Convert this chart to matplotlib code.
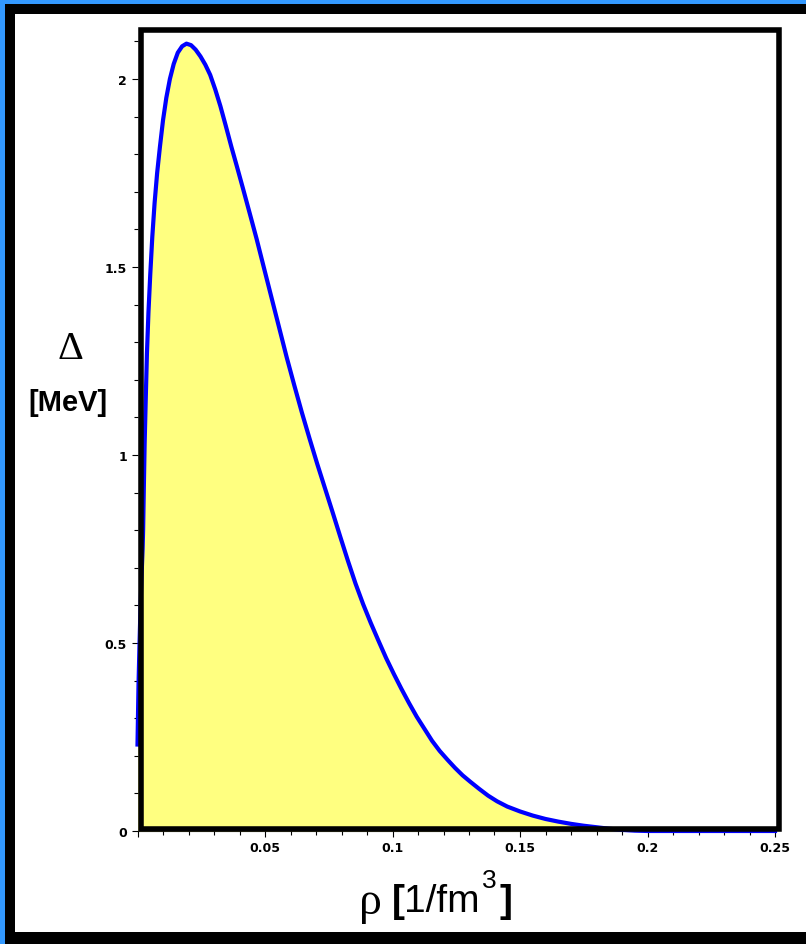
import matplotlib
matplotlib.use("Agg")
import matplotlib.pyplot as plt
from matplotlib.patches import Rectangle
from matplotlib.ticker import MultipleLocator

W, H = 806, 945
OUTPUT_FILENAME = "out.png"

# density rho [1/fm^3] and pairing gap Delta [MeV]
rho = [0.0000, 0.0004, 0.0008, 0.0012, 0.0016, 0.0020, 0.0022, 0.0025, 0.0028,
       0.0032, 0.0037, 0.0043, 0.0050, 0.0058, 0.0067, 0.0077, 0.0088, 0.0100,
       0.0113, 0.0127, 0.0142, 0.0158, 0.0175, 0.0192, 0.0210, 0.0228, 0.0247,
       0.0266, 0.0285, 0.0305, 0.0325, 0.0346, 0.0368, 0.0390, 0.0414, 0.0440,
       0.0467, 0.0495, 0.0525, 0.0555, 0.0585, 0.0615, 0.0645, 0.0675, 0.0705,
       0.0735, 0.0765, 0.0795, 0.0825, 0.0855, 0.0885, 0.0915, 0.0945, 0.0975,
       0.1005, 0.1035, 0.1065, 0.1095, 0.1125, 0.1155, 0.1185, 0.1215, 0.1245,
       0.1275, 0.1305, 0.1340, 0.1375, 0.1410, 0.1450, 0.1500, 0.1550, 0.1600,
       0.1650, 0.1700, 0.1750, 0.1800, 0.1850, 0.1900, 0.1950, 0.2000, 0.2500]
gap = [0.23, 0.39, 0.50, 0.60, 0.68, 0.75, 0.80, 0.92, 1.03,
       1.14, 1.27, 1.38, 1.48, 1.58, 1.67, 1.75, 1.82, 1.89,
       1.95, 2.00, 2.04, 2.07, 2.087, 2.094, 2.090, 2.078, 2.060,
       2.038, 2.011, 1.972, 1.928, 1.876, 1.820, 1.767, 1.708, 1.643,
       1.575, 1.500, 1.420, 1.340, 1.260, 1.185, 1.112, 1.043, 0.976,
       0.912, 0.848, 0.783, 0.719, 0.658, 0.603, 0.553, 0.506, 0.460,
       0.418, 0.378, 0.340, 0.304, 0.272, 0.240, 0.213, 0.190, 0.168,
       0.148, 0.131, 0.112, 0.094, 0.079, 0.065, 0.052, 0.041, 0.032,
       0.025, 0.019, 0.014, 0.010, 0.006, 0.003, 0.001, 0.0, 0.0]

x_ticks = [0.0, 0.05, 0.1, 0.15, 0.2, 0.25]
x_labels = ["", "0.05", "0.1", "0.15", "0.2", "0.25"]
y_ticks = [0.0, 0.5, 1.0, 1.5, 2.0]
y_labels = ["0", "0.5", "1", "1.5", "2"]


def fx(px):
    return px / W


def fy(py):
    return 1 - py / H


fig = plt.figure(figsize=(W / 100, H / 100), dpi=100, facecolor="#3399ff")

# window frame: blue edge, black band, white inside (right side cut off)
fig.add_artist(Rectangle((fx(5), fy(945)), (806 - 5) / W, (945 - 5) / H,
                         transform=fig.transFigure, facecolor="black", edgecolor="none", zorder=-3))
fig.add_artist(Rectangle((fx(15), fy(933)), (806 - 15) / W, (933 - 15) / H,
                         transform=fig.transFigure, facecolor="white", edgecolor="none", zorder=-2))

ax = fig.add_axes([fx(137.5), fy(832), (775 - 137.5) / W, (832 - 27) / H])
ax.set_facecolor("none")
ax.set_xlim(0, 0.25)
ax.set_ylim(0, 805 / 376)

ax.fill_between(rho, gap, 0, color="#ffff80", linewidth=0, zorder=1)
ax.plot(rho, gap, color="#0000ff", linewidth=3, clip_on=False, zorder=2,
        solid_joinstyle="round")

# boxed frame drawn over the curve
ax.add_patch(Rectangle((0.0012, 0.0066), 0.2504, 2.125, fill=False,
                       edgecolor="black", linewidth=4, clip_on=False, zorder=5))

for side in ["top", "right", "left"]:
    ax.spines[side].set_visible(False)
ax.spines["bottom"].set_linewidth(0.8)
ax.spines["bottom"].set_zorder(0)

tick_font = {"family": "DejaVu Sans", "weight": "bold", "size": 9}
ax.set_xticks(x_ticks)
ax.set_xticklabels(x_labels, fontdict=tick_font)
ax.set_yticks(y_ticks)
ax.set_yticklabels(y_labels, fontdict=tick_font)
ax.xaxis.set_minor_locator(MultipleLocator(0.01))
ax.yaxis.set_minor_locator(MultipleLocator(0.1))
ax.tick_params(which="major", direction="out", length=4.5, width=0.8, pad=3)
ax.tick_params(which="minor", direction="out", length=3, width=0.8)

fig.text(fx(70), fy(350), "\u0394", ha="center", va="center", fontsize=29,
         family="Liberation Serif")
fig.text(fx(68), fy(403), "[MeV]", ha="center", va="center", fontsize=21,
         family="Liberation Sans", weight="bold")

# x label pieces: rho [1/fm^3]
fig.text(fx(370), fy(903), "\u03c1", ha="center", va="center", fontsize=33,
         family="Liberation Serif")
fig.text(fx(392), fy(912), "[", ha="left", va="baseline", fontsize=28,
         family="Liberation Sans", weight="bold")
fig.text(fx(404), fy(912), "1/fm", ha="left", va="baseline", fontsize=28,
         family="Liberation Sans")
fig.text(fx(482), fy(888), "3", ha="left", va="baseline", fontsize=19,
         family="Liberation Sans")
fig.text(fx(500), fy(912), "]", ha="left", va="baseline", fontsize=28,
         family="Liberation Sans", weight="bold")

plt.savefig(OUTPUT_FILENAME, dpi=100, facecolor=fig.get_facecolor())
plt.close()
